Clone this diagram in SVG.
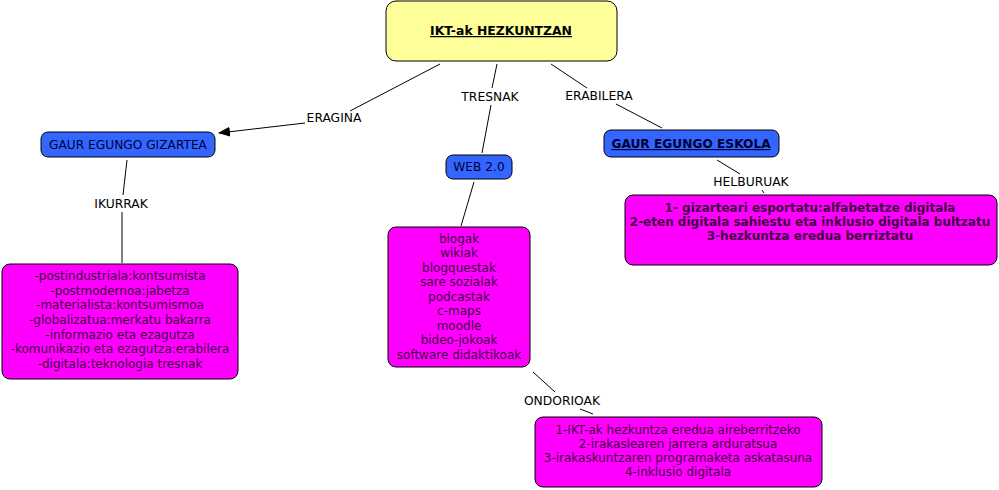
<svg xmlns="http://www.w3.org/2000/svg" width="999" height="490" viewBox="0 0 999 490">
<style>
.pink{fill:#FF00FF;stroke:#000;stroke-width:1}
.blue{fill:#3366FF;stroke:#000;stroke-width:1}
.yellow{fill:#FFFF99;stroke:#000;stroke-width:1}
text{font-family:"DejaVu Sans",Verdana,sans-serif;font-size:12px;text-anchor:middle}
.pt{fill:#400040}
.bt{fill:#000033;font-size:12.2px}
.lbl{fill:#000;font-size:12.3px}
.b{font-weight:bold}
.u{text-decoration:underline}
.con line{stroke:#000;stroke-width:1}
</style>
<defs>
<marker id="arr" markerWidth="12" markerHeight="10" refX="11" refY="5" orient="auto" markerUnits="userSpaceOnUse">
<path d="M0,0 L12,5 L0,10 Z" fill="#000"/>
</marker>
</defs>
<rect width="999" height="490" fill="#fff"/>
<g id="connectors" class="con">
<line x1="440" y1="64" x2="350" y2="111"/>
<line x1="305" y1="123" x2="219" y2="133" marker-end="url(#arr)"/>
<line x1="127" y1="160" x2="123" y2="195"/>
<line x1="122" y1="212" x2="122" y2="263"/>
<line x1="497" y1="64" x2="492" y2="88"/>
<line x1="491" y1="105" x2="482" y2="153"/>
<line x1="474" y1="182" x2="461" y2="226"/>
<line x1="551" y1="64" x2="587" y2="88"/>
<line x1="616" y1="104" x2="662" y2="128"/>
<line x1="717" y1="160" x2="740" y2="174"/>
<line x1="762" y1="190" x2="764" y2="193"/>
<line x1="533" y1="372" x2="555" y2="392"/>
<line x1="580" y1="409" x2="593" y2="414"/>
</g>
<g id="labels">
<text class="lbl" x="334" y="122">ERAGINA</text>
<text class="lbl" x="121" y="208">IKURRAK</text>
<text class="lbl" x="490" y="101">TRESNAK</text>
<text class="lbl" x="599" y="100">ERABILERA</text>
<text class="lbl" x="751" y="186">HELBURUAK</text>
<text class="lbl" x="562" y="405">ONDORIOAK</text>
</g>
<g id="n-root">
<rect class="yellow" x="386" y="1" width="231" height="60" rx="10"/>
<text class="b u" x="501" y="35" fill="#000" style="font-size:12.4px">IKT-ak HEZKUNTZAN</text>
</g>
<g id="n-gizartea">
<rect class="blue" x="41" y="132" width="174" height="25" rx="7"/>
<text class="bt" x="128" y="149">GAUR EGUNGO GIZARTEA</text>
</g>
<g id="n-web">
<rect class="blue" x="446" y="155" width="66" height="24" rx="7"/>
<text class="bt" x="479" y="171">WEB 2.0</text>
</g>
<g id="n-eskola">
<rect class="blue" x="604" y="130" width="175" height="27" rx="7"/>
<text class="bt b u" x="691" y="148">GAUR EGUNGO ESKOLA</text>
</g>
<g id="n-ikurrak">
<rect class="pink" x="2" y="264" width="236" height="115" rx="8"/>
<text class="pt" x="120" y="280">-postindustriala:kontsumista</text>
<text class="pt" x="120" y="295">-postmodernoa:jabetza</text>
<text class="pt" x="120" y="309">-materialista:kontsumismoa</text>
<text class="pt" x="120" y="324">-globalizatua:merkatu bakarra</text>
<text class="pt" x="120" y="339">-informazio eta ezagutza</text>
<text class="pt" x="120" y="353">-komunikazio eta ezagutza:erabilera</text>
<text class="pt" x="120" y="368">-digitala:teknologia tresnak</text>
</g>
<g id="n-tresnak">
<rect class="pink" x="388" y="227" width="142" height="140" rx="8"/>
<text class="pt" x="459" y="243">blogak</text>
<text class="pt" x="459" y="257">wikiak</text>
<text class="pt" x="459" y="272">blogquestak</text>
<text class="pt" x="459" y="286">sare sozialak</text>
<text class="pt" x="459" y="301">podcastak</text>
<text class="pt" x="459" y="315">c-maps</text>
<text class="pt" x="459" y="330">moodle</text>
<text class="pt" x="459" y="344">bideo-jokoak</text>
<text class="pt" x="459" y="359">software didaktikoak</text>
</g>
<g id="n-helburuak">
<rect class="pink" x="625" y="195" width="372" height="70" rx="8"/>
<text class="pt b" x="810" y="212">1- gizarteari esportatu:alfabetatze digitala</text>
<text class="pt b" x="810" y="226">2-eten digitala sahiestu eta inklusio digitala bultzatu</text>
<text class="pt b" x="810" y="240">3-hezkuntza eredua berriztatu</text>
</g>
<g id="n-ondorioak">
<rect class="pink" x="535" y="417" width="287" height="70" rx="8"/>
<text class="pt" x="678" y="434">1-IKT-ak hezkuntza eredua aireberritzeko</text>
<text class="pt" x="678" y="448">2-irakaslearen jarrera arduratsua</text>
<text class="pt" x="678" y="462">3-irakaskuntzaren programaketa askatasuna</text>
<text class="pt" x="678" y="476">4-inklusio digitala</text>
</g>
</svg>
